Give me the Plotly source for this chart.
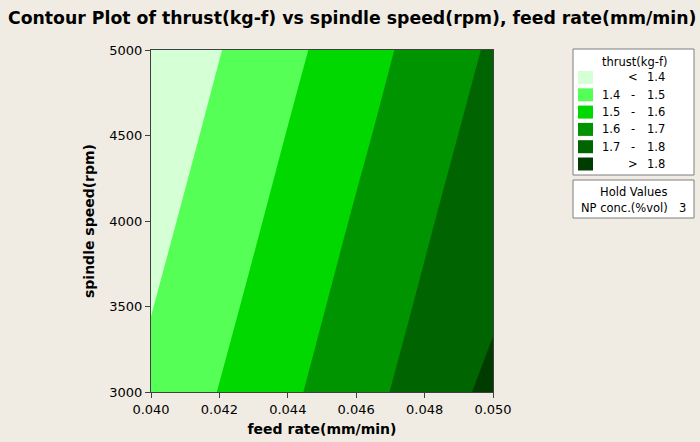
import plotly.graph_objects as go

# ---- data ----
feed_rate = [0.040, 0.042, 0.044, 0.046, 0.048, 0.050]          # mm/min
spindle_speed = [3000, 3500, 4000, 4500, 5000]                   # rpm
thrust = [                                                       # kg-f, rows = spindle speed
    [1.423, 1.503, 1.582, 1.661, 1.741, 1.826],
    [1.397, 1.476, 1.556, 1.635, 1.714, 1.786],
    [1.370, 1.450, 1.529, 1.609, 1.688, 1.767],
    [1.344, 1.423, 1.503, 1.582, 1.661, 1.741],
    [1.318, 1.397, 1.476, 1.556, 1.635, 1.714],
]
levels_start, levels_end, levels_step = 1.4, 1.8, 0.1
band_colors = ["#d5ffd5", "#55ff55", "#00d800", "#009400", "#006400", "#003c00"]
band_low = ["", "1.4", "1.5", "1.6", "1.7", ""]
band_sep = ["<", "-", "-", "-", "-", ">"]
band_high = ["1.4", "1.5", "1.6", "1.7", "1.8", "1.8"]
x_ticks = [0.040, 0.042, 0.044, 0.046, 0.048, 0.050]
y_ticks = [3000, 3500, 4000, 4500, 5000]
hold_name, hold_value = "NP conc.(%vol)", "3"

# ---- layout geometry (pixels) ----
W, H = 700, 442
L, R, T, B = 151, 493, 50, 392
BG = "#f0ece3"
FONT = "DejaVu Sans"
LEG_FS = 11.5


def px(x):
    return (x - L) / (R - L)


def py(y):
    return (B - y) / (B - T)


# stepwise colorscale: band i evaluated at fraction i/5
n = len(band_colors)
cscale = []
edges = [0.0] + [(i + 0.5) / (n - 1) for i in range(n - 1)] + [1.0]
for i, c in enumerate(band_colors):
    cscale.append([edges[i], c])
    cscale.append([edges[i + 1], c])

fig = go.Figure(
    go.Contour(
        x=feed_rate,
        y=spindle_speed,
        z=thrust,
        autocontour=False,
        contours=dict(start=levels_start, end=levels_end, size=levels_step, coloring="fill"),
        colorscale=cscale,
        showscale=False,
        line=dict(width=0),
        hoverinfo="x+y+z",
    )
)

axis_common = dict(
    showgrid=False,
    zeroline=False,
    showline=True,
    linecolor="#404040",
    linewidth=1,
    mirror=True,
    ticks="outside",
    ticklen=5,
    tickcolor="#404040",
    automargin=False,
    tickfont=dict(family=FONT, size=13, color="#000000"),
)

fig.update_layout(
    width=W,
    height=H,
    margin=dict(l=L, r=W - R, t=T, b=H - B),
    paper_bgcolor=BG,
    plot_bgcolor=BG,
    title=dict(
        text="<b>Contour Plot of thrust(kg-f) vs spindle speed(rpm), feed rate(mm/min)</b>",
        font=dict(family=FONT, size=17.3, color="#000000"),
        x=8 / W, xanchor="left", xref="container",
        y=1 - 18 / H, yanchor="middle",
    ),
    xaxis=dict(
        axis_common,
        range=[feed_rate[0], feed_rate[-1]],
        tickvals=x_ticks,
        tickformat=".3f",
        title=dict(text="<b>feed rate(mm/min)</b>", font=dict(family=FONT, size=14, color="#000000"), standoff=8),
    ),
    yaxis=dict(
        axis_common,
        range=[spindle_speed[0], spindle_speed[-1]],
        tickvals=y_ticks,
        title=dict(text="<b>spindle speed(rpm)</b>", font=dict(family=FONT, size=14, color="#000000"), standoff=11),
    ),
    showlegend=False,
)

shapes = []
annotations = []

# legend box
shapes.append(dict(type="rect", xref="paper", yref="paper",
                   x0=px(573), x1=px(694), y0=py(175), y1=py(49),
                   fillcolor="white", line=dict(color="#7f7f7f", width=1), layer="above"))
annotations.append(dict(xref="paper", yref="paper", x=px(634), y=py(62), text="thrust(kg-f)",
                        showarrow=False, xanchor="center", yanchor="middle",
                        font=dict(family=FONT, size=LEG_FS, color="#000000")))
row0, drow = 77.5, 17.3
for i, c in enumerate(band_colors):
    yc = row0 + i * drow
    shapes.append(dict(type="rect", xref="paper", yref="paper",
                       x0=px(578), x1=px(593), y0=py(yc + 6.5), y1=py(yc - 6.5),
                       fillcolor=c, line=dict(width=0), layer="above"))
    if band_low[i]:
        annotations.append(dict(xref="paper", yref="paper", x=px(600), y=py(yc), text=band_low[i],
                                showarrow=False, xanchor="left", yanchor="middle",
                                font=dict(family=FONT, size=LEG_FS, color="#000000")))
    annotations.append(dict(xref="paper", yref="paper", x=px(633), y=py(yc), text=band_sep[i],
                            showarrow=False, xanchor="center", yanchor="middle",
                            font=dict(family=FONT, size=LEG_FS, color="#000000")))
    annotations.append(dict(xref="paper", yref="paper", x=px(667), y=py(yc), text=band_high[i],
                            showarrow=False, xanchor="right", yanchor="middle",
                            font=dict(family=FONT, size=LEG_FS, color="#000000")))

# hold values box
shapes.append(dict(type="rect", xref="paper", yref="paper",
                   x0=px(573), x1=px(694), y0=py(218), y1=py(180),
                   fillcolor="white", line=dict(color="#7f7f7f", width=1), layer="above"))
annotations.append(dict(xref="paper", yref="paper", x=px(633), y=py(192), text="Hold Values",
                        showarrow=False, xanchor="center", yanchor="middle",
                        font=dict(family=FONT, size=LEG_FS, color="#000000")))
annotations.append(dict(xref="paper", yref="paper", x=px(579), y=py(208), text=hold_name,
                        showarrow=False, xanchor="left", yanchor="middle",
                        font=dict(family=FONT, size=LEG_FS, color="#000000")))
annotations.append(dict(xref="paper", yref="paper", x=px(688), y=py(208), text=hold_value,
                        showarrow=False, xanchor="right", yanchor="middle",
                        font=dict(family=FONT, size=LEG_FS, color="#000000")))

fig.update_layout(shapes=shapes, annotations=annotations)
fig.write_html(
    "out.html",
    config={"displayModeBar": False},
    post_script="document.body.style.margin='0';document.body.style.overflow='hidden';",
)
